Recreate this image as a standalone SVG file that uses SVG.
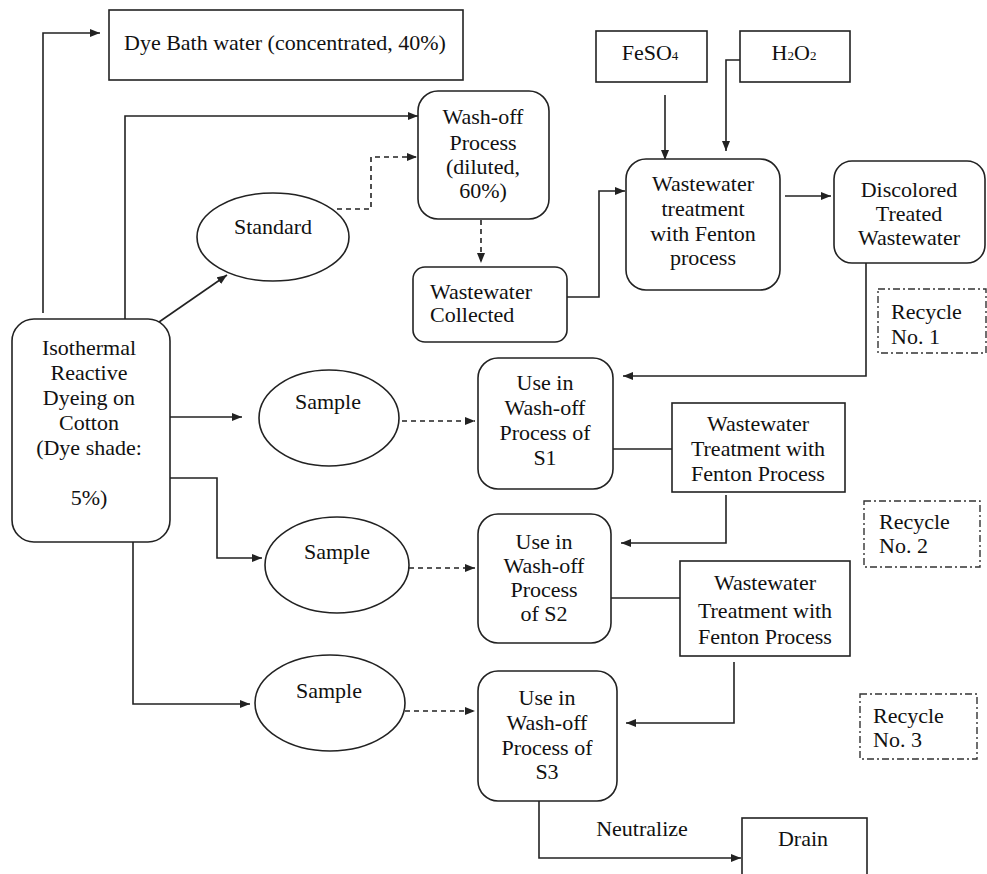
<svg xmlns="http://www.w3.org/2000/svg" width="987" height="874" viewBox="0 0 987 874" font-family="'Liberation Serif', 'Times New Roman', 'DejaVu Serif', serif">
<defs>
<style>
.bx{fill:#fff;stroke:#222;stroke-width:1.6}
.rc{fill:#fff;stroke:#333;stroke-width:1.4;stroke-dasharray:7 3 2 3}
.ln{fill:none;stroke:#222;stroke-width:1.6}
.dl{fill:none;stroke:#222;stroke-width:1.6;stroke-dasharray:5 4}
.t{font-family:'Liberation Serif', 'Times New Roman', 'DejaVu Serif', serif;font-size:22px;fill:#111}
.c{text-anchor:middle}
</style>
<marker id="ah" markerUnits="userSpaceOnUse" markerWidth="11" markerHeight="9" refX="10" refY="4" orient="auto">
<path d="M0,0 L10,4 L0,8 z" fill="#222"/>
</marker>
</defs>
<rect width="987" height="874" fill="#fff"/>

<g id="connectors">
<path class="ln" d="M43 313 V33 H100" marker-end="url(#ah)"/>
<path class="ln" d="M125 319 V116 H418" marker-end="url(#ah)"/>
<path class="ln" d="M159 322 L227 275" marker-end="url(#ah)"/>
<path class="dl" d="M337 209 H371 V157 H417" marker-end="url(#ah)"/>
<path class="dl" d="M481 220 V263" marker-end="url(#ah)"/>
<path class="ln" d="M567 297 H599 V191 H625" marker-end="url(#ah)"/>
<path class="ln" d="M665 95 V160" marker-end="url(#ah)"/>
<path class="ln" d="M740 60 H726 V151" marker-end="url(#ah)"/>
<path class="ln" d="M785 196 H831" marker-end="url(#ah)"/>
<path class="ln" d="M866 263 V376 H623" marker-end="url(#ah)"/>
<path class="ln" d="M170 417 H242" marker-end="url(#ah)"/>
<path class="dl" d="M402 421 H475" marker-end="url(#ah)"/>
<path class="ln" d="M170 478 H217 V558 H262" marker-end="url(#ah)"/>
<path class="dl" d="M409 568 H475" marker-end="url(#ah)"/>
<path class="ln" d="M133 542 V704 H250" marker-end="url(#ah)"/>
<path class="dl" d="M405 711 H475" marker-end="url(#ah)"/>
<path class="ln" d="M613 449 H672"/>
<path class="ln" d="M726 495 V543 H621" marker-end="url(#ah)"/>
<path class="ln" d="M611 598 H680"/>
<path class="ln" d="M734 662 V723 H626" marker-end="url(#ah)"/>
<path class="ln" d="M539 801 V858 H741" marker-end="url(#ah)"/>
<text class="t c" x="642" y="836">Neutralize</text>
</g>

<g id="dyebath">
<rect class="bx" x="109" y="10" width="354" height="70"/>
<text class="t" x="124" y="50">Dye Bath water (concentrated, 40%)</text>
</g>

<g id="washoff">
<rect class="bx" x="418" y="91" width="131" height="128" rx="20"/>
<text class="t c" x="483" y="124">Wash-off</text>
<text class="t c" x="483" y="150">Process</text>
<text class="t c" x="483" y="174">(diluted,</text>
<text class="t c" x="483" y="198">60%)</text>
</g>

<g id="standard">
<ellipse class="bx" cx="273" cy="237" rx="76" ry="44"/>
<text class="t c" x="273" y="234">Standard</text>
</g>

<g id="collected">
<rect class="bx" x="413" y="267" width="154" height="75" rx="12"/>
<text class="t" x="430" y="299">Wastewater</text>
<text class="t" x="430" y="322">Collected</text>
</g>

<g id="feso4">
<rect class="bx" x="596" y="31" width="111" height="51"/>
<text class="t c" x="650" y="60">FeSO<tspan font-size="13">4</tspan></text>
</g>

<g id="h2o2">
<rect class="bx" x="740" y="31" width="110" height="51"/>
<text class="t c" x="794" y="60">H<tspan font-size="13">2</tspan>O<tspan font-size="13">2</tspan></text>
</g>

<g id="fenton">
<rect class="bx" x="626" y="159" width="154" height="131" rx="20"/>
<text class="t c" x="703" y="191">Wastewater</text>
<text class="t c" x="703" y="216">treatment</text>
<text class="t c" x="703" y="241">with Fenton</text>
<text class="t c" x="703" y="265">process</text>
</g>

<g id="discolored">
<rect class="bx" x="834" y="161" width="151" height="102" rx="18"/>
<text class="t c" x="909" y="197">Discolored</text>
<text class="t c" x="909" y="221">Treated</text>
<text class="t c" x="909" y="245">Wastewater</text>
</g>

<g id="recycle1">
<rect class="rc" x="878" y="289" width="108" height="64"/>
<text class="t" x="891" y="319">Recycle</text>
<text class="t" x="891" y="344">No. 1</text>
</g>

<g id="isothermal">
<rect class="bx" x="12" y="319" width="158" height="223" rx="22"/>
<text class="t c" x="89" y="355">Isothermal</text>
<text class="t c" x="89" y="380">Reactive</text>
<text class="t c" x="89" y="405">Dyeing on</text>
<text class="t c" x="89" y="430">Cotton</text>
<text class="t c" x="89" y="455">(Dye shade:</text>
<text class="t c" x="89" y="505">5%)</text>
</g>

<g id="sample1">
<ellipse class="bx" cx="329" cy="418" rx="70" ry="48"/>
<text class="t c" x="328" y="409">Sample</text>
</g>

<g id="sample2">
<ellipse class="bx" cx="337" cy="565" rx="72" ry="48"/>
<text class="t c" x="337" y="559">Sample</text>
</g>

<g id="sample3">
<ellipse class="bx" cx="330" cy="703" rx="75" ry="48"/>
<text class="t c" x="329" y="698">Sample</text>
</g>

<g id="use1">
<rect class="bx" x="478" y="358" width="135" height="131" rx="20"/>
<text class="t c" x="545" y="390">Use in</text>
<text class="t c" x="545" y="415">Wash-off</text>
<text class="t c" x="545" y="440">Process of</text>
<text class="t c" x="545" y="465">S1</text>
</g>

<g id="treat1">
<rect class="bx" x="672" y="403" width="173" height="89"/>
<text class="t c" x="758" y="431">Wastewater</text>
<text class="t c" x="758" y="456">Treatment with</text>
<text class="t c" x="758" y="481">Fenton Process</text>
</g>

<g id="recycle2">
<rect class="rc" x="864" y="501" width="116" height="66"/>
<text class="t" x="879" y="529">Recycle</text>
<text class="t" x="879" y="553">No. 2</text>
</g>

<g id="use2">
<rect class="bx" x="478" y="514" width="133" height="129" rx="20"/>
<text class="t c" x="544" y="549">Use in</text>
<text class="t c" x="544" y="573">Wash-off</text>
<text class="t c" x="544" y="597">Process</text>
<text class="t c" x="544" y="621">of S2</text>
</g>

<g id="treat2">
<rect class="bx" x="680" y="561" width="170" height="95"/>
<text class="t c" x="765" y="590">Wastewater</text>
<text class="t c" x="765" y="618">Treatment with</text>
<text class="t c" x="765" y="644">Fenton Process</text>
</g>

<g id="use3">
<rect class="bx" x="478" y="671" width="139" height="130" rx="20"/>
<text class="t c" x="547" y="705">Use in</text>
<text class="t c" x="547" y="730">Wash-off</text>
<text class="t c" x="547" y="755">Process of</text>
<text class="t c" x="547" y="779">S3</text>
</g>

<g id="recycle3">
<rect class="rc" x="860" y="694" width="117" height="65"/>
<text class="t" x="873" y="723">Recycle</text>
<text class="t" x="873" y="747">No. 3</text>
</g>

<g id="drain">
<rect class="bx" x="742" y="818" width="125" height="70"/>
<text class="t c" x="803" y="846">Drain</text>
</g>
</svg>
